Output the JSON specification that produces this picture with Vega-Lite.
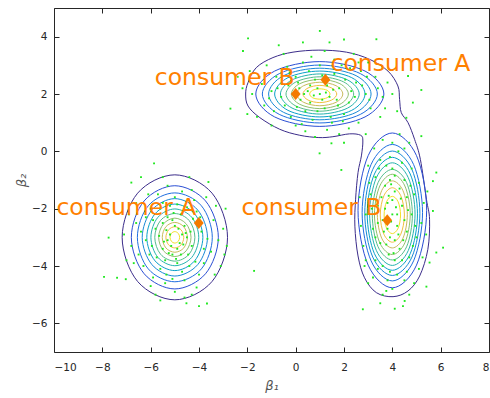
{
"$schema":"https://vega.github.io/schema/vega-lite/v6.json",
"width":435,"height":344,
"autosize":{"type":"none"},
"padding":{"left":54,"top":8,"right":1,"bottom":46},
"background":"white",
"config":{
 "view":{"stroke":"#262626","strokeWidth":1},
 "axis":{"labelFont":"DejaVu Sans","labelFontSize":10.5,"labelColor":"#262626","tickColor":"#262626","tickWidth":1,"domain":false,"grid":false,
   "titleFont":"DejaVu Sans","titleFontStyle":"italic","titleFontWeight":"normal","titleFontSize":13,"titleColor":"#555555"}
},
"datasets":{
"c":[
{"g":0,"l":1,"o":0,"x":-2.07,"y":2.0},{"g":0,"l":1,"o":1,"x":-1.97,"y":2.4},{"g":0,"l":1,"o":2,"x":-1.63,"y":2.92},{"g":0,"l":1,"o":3,"x":-0.94,"y":3.27},{"g":0,"l":1,"o":4,"x":-0.11,"y":3.46},{"g":0,"l":1,"o":5,"x":0.96,"y":3.53},{"g":0,"l":1,"o":6,"x":2.1,"y":3.46},{"g":0,"l":1,"o":7,"x":3.06,"y":3.21},{"g":0,"l":1,"o":8,"x":3.82,"y":2.8},{"g":0,"l":1,"o":9,"x":4.23,"y":2.28},{"g":0,"l":1,"o":10,"x":4.3,"y":1.81},{"g":0,"l":1,"o":11,"x":4.37,"y":1.35},{"g":0,"l":1,"o":12,"x":4.65,"y":1.0},{"g":0,"l":1,"o":13,"x":4.92,"y":0.42},{"g":0,"l":1,"o":14,"x":5.16,"y":-0.28},{"g":0,"l":1,"o":15,"x":5.41,"y":-1.67},{"g":0,"l":1,"o":16,"x":5.54,"y":-2.37},{"g":0,"l":1,"o":17,"x":5.47,"y":-3.42},{"g":0,"l":1,"o":18,"x":5.13,"y":-4.35},{"g":0,"l":1,"o":19,"x":4.65,"y":-4.87},{"g":0,"l":1,"o":20,"x":4.03,"y":-5.07},{"g":0,"l":1,"o":21,"x":3.34,"y":-4.93},{"g":0,"l":1,"o":22,"x":2.85,"y":-4.41},{"g":0,"l":1,"o":23,"x":2.58,"y":-3.65},{"g":0,"l":1,"o":24,"x":2.45,"y":-2.61},{"g":0,"l":1,"o":25,"x":2.48,"y":-1.67},{"g":0,"l":1,"o":26,"x":2.58,"y":-0.74},{"g":0,"l":1,"o":27,"x":2.72,"y":-0.16},{"g":0,"l":1,"o":28,"x":2.78,"y":0.36},{"g":0,"l":1,"o":29,"x":2.69,"y":0.56},{"g":0,"l":1,"o":30,"x":2.23,"y":0.61},{"g":0,"l":1,"o":31,"x":1.54,"y":0.51},{"g":0,"l":1,"o":32,"x":0.96,"y":0.48},{"g":0,"l":1,"o":33,"x":0.17,"y":0.56},{"g":0,"l":1,"o":34,"x":-0.66,"y":0.77},{"g":0,"l":1,"o":35,"x":-1.49,"y":1.18},{"g":0,"l":1,"o":36,"x":-1.97,"y":1.58},

{"g":1,"l":1,"o":0,"x":-2.82,"y":-3},{"g":1,"l":1,"o":1,"x":-3.46,"y":-1.46},{"g":1,"l":1,"o":2,"x":-5,"y":-0.82},{"g":1,"l":1,"o":3,"x":-6.54,"y":-1.46},{"g":1,"l":1,"o":4,"x":-7.18,"y":-3},{"g":1,"l":1,"o":5,"x":-6.54,"y":-4.54},{"g":1,"l":1,"o":6,"x":-5,"y":-5.18},{"g":1,"l":1,"o":7,"x":-3.46,"y":-4.54},
{"g":2,"l":2,"o":0,"x":-3.2,"y":-3},{"g":2,"l":2,"o":1,"x":-3.73,"y":-1.73},{"g":2,"l":2,"o":2,"x":-5,"y":-1.2},{"g":2,"l":2,"o":3,"x":-6.27,"y":-1.73},{"g":2,"l":2,"o":4,"x":-6.8,"y":-3},{"g":2,"l":2,"o":5,"x":-6.27,"y":-4.27},{"g":2,"l":2,"o":6,"x":-5,"y":-4.8},{"g":2,"l":2,"o":7,"x":-3.73,"y":-4.27},
{"g":3,"l":3,"o":0,"x":-3.45,"y":-3},{"g":3,"l":3,"o":1,"x":-3.9,"y":-1.9},{"g":3,"l":3,"o":2,"x":-5,"y":-1.45},{"g":3,"l":3,"o":3,"x":-6.1,"y":-1.9},{"g":3,"l":3,"o":4,"x":-6.55,"y":-3},{"g":3,"l":3,"o":5,"x":-6.1,"y":-4.1},{"g":3,"l":3,"o":6,"x":-5,"y":-4.55},{"g":3,"l":3,"o":7,"x":-3.9,"y":-4.1},
{"g":4,"l":4,"o":0,"x":-3.65,"y":-3},{"g":4,"l":4,"o":1,"x":-4.05,"y":-2.05},{"g":4,"l":4,"o":2,"x":-5,"y":-1.65},{"g":4,"l":4,"o":3,"x":-5.95,"y":-2.05},{"g":4,"l":4,"o":4,"x":-6.35,"y":-3},{"g":4,"l":4,"o":5,"x":-5.95,"y":-3.95},{"g":4,"l":4,"o":6,"x":-5,"y":-4.35},{"g":4,"l":4,"o":7,"x":-4.05,"y":-3.95},
{"g":5,"l":5,"o":0,"x":-3.84,"y":-3},{"g":5,"l":5,"o":1,"x":-4.18,"y":-2.18},{"g":5,"l":5,"o":2,"x":-5,"y":-1.84},{"g":5,"l":5,"o":3,"x":-5.82,"y":-2.18},{"g":5,"l":5,"o":4,"x":-6.16,"y":-3},{"g":5,"l":5,"o":5,"x":-5.82,"y":-3.82},{"g":5,"l":5,"o":6,"x":-5,"y":-4.16},{"g":5,"l":5,"o":7,"x":-4.18,"y":-3.82},
{"g":6,"l":6,"o":0,"x":-4.01,"y":-3},{"g":6,"l":6,"o":1,"x":-4.3,"y":-2.3},{"g":6,"l":6,"o":2,"x":-5,"y":-2.01},{"g":6,"l":6,"o":3,"x":-5.7,"y":-2.3},{"g":6,"l":6,"o":4,"x":-5.99,"y":-3},{"g":6,"l":6,"o":5,"x":-5.7,"y":-3.7},{"g":6,"l":6,"o":6,"x":-5,"y":-3.99},{"g":6,"l":6,"o":7,"x":-4.3,"y":-3.7},
{"g":7,"l":7,"o":0,"x":-4.17,"y":-3},{"g":7,"l":7,"o":1,"x":-4.41,"y":-2.41},{"g":7,"l":7,"o":2,"x":-5,"y":-2.17},{"g":7,"l":7,"o":3,"x":-5.59,"y":-2.41},{"g":7,"l":7,"o":4,"x":-5.83,"y":-3},{"g":7,"l":7,"o":5,"x":-5.59,"y":-3.59},{"g":7,"l":7,"o":6,"x":-5,"y":-3.83},{"g":7,"l":7,"o":7,"x":-4.41,"y":-3.59},
{"g":8,"l":8,"o":0,"x":-4.33,"y":-3},{"g":8,"l":8,"o":1,"x":-4.53,"y":-2.53},{"g":8,"l":8,"o":2,"x":-5,"y":-2.33},{"g":8,"l":8,"o":3,"x":-5.47,"y":-2.53},{"g":8,"l":8,"o":4,"x":-5.67,"y":-3},{"g":8,"l":8,"o":5,"x":-5.47,"y":-3.47},{"g":8,"l":8,"o":6,"x":-5,"y":-3.67},{"g":8,"l":8,"o":7,"x":-4.53,"y":-3.47},
{"g":9,"l":9,"o":0,"x":-4.48,"y":-3},{"g":9,"l":9,"o":1,"x":-4.63,"y":-2.63},{"g":9,"l":9,"o":2,"x":-5,"y":-2.48},{"g":9,"l":9,"o":3,"x":-5.37,"y":-2.63},{"g":9,"l":9,"o":4,"x":-5.52,"y":-3},{"g":9,"l":9,"o":5,"x":-5.37,"y":-3.37},{"g":9,"l":9,"o":6,"x":-5,"y":-3.52},{"g":9,"l":9,"o":7,"x":-4.63,"y":-3.37},
{"g":10,"l":10,"o":0,"x":-4.63,"y":-3},{"g":10,"l":10,"o":1,"x":-4.74,"y":-2.74},{"g":10,"l":10,"o":2,"x":-5,"y":-2.63},{"g":10,"l":10,"o":3,"x":-5.26,"y":-2.74},{"g":10,"l":10,"o":4,"x":-5.37,"y":-3},{"g":10,"l":10,"o":5,"x":-5.26,"y":-3.26},{"g":10,"l":10,"o":6,"x":-5,"y":-3.37},{"g":10,"l":10,"o":7,"x":-4.74,"y":-3.26},
{"g":11,"l":11,"o":0,"x":-4.8,"y":-3},{"g":11,"l":11,"o":1,"x":-4.86,"y":-2.86},{"g":11,"l":11,"o":2,"x":-5,"y":-2.8},{"g":11,"l":11,"o":3,"x":-5.14,"y":-2.86},{"g":11,"l":11,"o":4,"x":-5.2,"y":-3},{"g":11,"l":11,"o":5,"x":-5.14,"y":-3.14},{"g":11,"l":11,"o":6,"x":-5,"y":-3.2},{"g":11,"l":11,"o":7,"x":-4.86,"y":-3.14},

{"g":12,"l":2,"o":0,"x":3.65,"y":2},{"g":12,"l":2,"o":1,"x":2.87,"y":2.8},{"g":12,"l":2,"o":2,"x":1,"y":3.13},{"g":12,"l":2,"o":3,"x":-0.87,"y":2.8},{"g":12,"l":2,"o":4,"x":-1.65,"y":2},{"g":12,"l":2,"o":5,"x":-0.87,"y":1.2},{"g":12,"l":2,"o":6,"x":1,"y":0.87},{"g":12,"l":2,"o":7,"x":2.87,"y":1.2},
{"g":13,"l":3,"o":0,"x":3.38,"y":2},{"g":13,"l":3,"o":1,"x":2.68,"y":2.71},{"g":13,"l":3,"o":2,"x":1,"y":3.01},{"g":13,"l":3,"o":3,"x":-0.68,"y":2.71},{"g":13,"l":3,"o":4,"x":-1.38,"y":2},{"g":13,"l":3,"o":5,"x":-0.68,"y":1.29},{"g":13,"l":3,"o":6,"x":1,"y":0.99},{"g":13,"l":3,"o":7,"x":2.68,"y":1.29},
{"g":14,"l":4,"o":0,"x":3.12,"y":2},{"g":14,"l":4,"o":1,"x":2.5,"y":2.64},{"g":14,"l":4,"o":2,"x":1,"y":2.9},{"g":14,"l":4,"o":3,"x":-0.5,"y":2.64},{"g":14,"l":4,"o":4,"x":-1.12,"y":2},{"g":14,"l":4,"o":5,"x":-0.5,"y":1.36},{"g":14,"l":4,"o":6,"x":1,"y":1.1},{"g":14,"l":4,"o":7,"x":2.5,"y":1.36},
{"g":15,"l":5,"o":0,"x":2.87,"y":2},{"g":15,"l":5,"o":1,"x":2.32,"y":2.57},{"g":15,"l":5,"o":2,"x":1,"y":2.8},{"g":15,"l":5,"o":3,"x":-0.32,"y":2.57},{"g":15,"l":5,"o":4,"x":-0.87,"y":2},{"g":15,"l":5,"o":5,"x":-0.32,"y":1.43},{"g":15,"l":5,"o":6,"x":1,"y":1.2},{"g":15,"l":5,"o":7,"x":2.32,"y":1.43},
{"g":16,"l":6,"o":0,"x":2.63,"y":2},{"g":16,"l":6,"o":1,"x":2.15,"y":2.49},{"g":16,"l":6,"o":2,"x":1,"y":2.7},{"g":16,"l":6,"o":3,"x":-0.15,"y":2.49},{"g":16,"l":6,"o":4,"x":-0.63,"y":2},{"g":16,"l":6,"o":5,"x":-0.15,"y":1.51},{"g":16,"l":6,"o":6,"x":1,"y":1.3},{"g":16,"l":6,"o":7,"x":2.15,"y":1.51},
{"g":17,"l":7,"o":0,"x":2.4,"y":2},{"g":17,"l":7,"o":1,"x":1.99,"y":2.42},{"g":17,"l":7,"o":2,"x":1,"y":2.6},{"g":17,"l":7,"o":3,"x":0.01,"y":2.42},{"g":17,"l":7,"o":4,"x":-0.4,"y":2},{"g":17,"l":7,"o":5,"x":0.01,"y":1.58},{"g":17,"l":7,"o":6,"x":1,"y":1.4},{"g":17,"l":7,"o":7,"x":1.99,"y":1.58},
{"g":18,"l":8,"o":0,"x":2.18,"y":2},{"g":18,"l":8,"o":1,"x":1.83,"y":2.36},{"g":18,"l":8,"o":2,"x":1,"y":2.51},{"g":18,"l":8,"o":3,"x":0.17,"y":2.36},{"g":18,"l":8,"o":4,"x":-0.18,"y":2},{"g":18,"l":8,"o":5,"x":0.17,"y":1.64},{"g":18,"l":8,"o":6,"x":1,"y":1.49},{"g":18,"l":8,"o":7,"x":1.83,"y":1.64},
{"g":19,"l":9,"o":0,"x":1.95,"y":2},{"g":19,"l":9,"o":1,"x":1.67,"y":2.29},{"g":19,"l":9,"o":2,"x":1,"y":2.41},{"g":19,"l":9,"o":3,"x":0.33,"y":2.29},{"g":19,"l":9,"o":4,"x":0.05,"y":2},{"g":19,"l":9,"o":5,"x":0.33,"y":1.71},{"g":19,"l":9,"o":6,"x":1,"y":1.59},{"g":19,"l":9,"o":7,"x":1.67,"y":1.71},
{"g":20,"l":10,"o":0,"x":1.7,"y":2},{"g":20,"l":10,"o":1,"x":1.49,"y":2.21},{"g":20,"l":10,"o":2,"x":1,"y":2.3},{"g":20,"l":10,"o":3,"x":0.51,"y":2.21},{"g":20,"l":10,"o":4,"x":0.3,"y":2},{"g":20,"l":10,"o":5,"x":0.51,"y":1.79},{"g":20,"l":10,"o":6,"x":1,"y":1.7},{"g":20,"l":10,"o":7,"x":1.49,"y":1.79},
{"g":21,"l":11,"o":0,"x":1.42,"y":2},{"g":21,"l":11,"o":1,"x":1.3,"y":2.13},{"g":21,"l":11,"o":2,"x":1,"y":2.18},{"g":21,"l":11,"o":3,"x":0.7,"y":2.13},{"g":21,"l":11,"o":4,"x":0.58,"y":2},{"g":21,"l":11,"o":5,"x":0.7,"y":1.87},{"g":21,"l":11,"o":6,"x":1,"y":1.82},{"g":21,"l":11,"o":7,"x":1.3,"y":1.87},

{"g":22,"l":2,"o":0,"x":5.42,"y":-2.06},{"g":22,"l":2,"o":1,"x":5.0,"y":-0.15},{"g":22,"l":2,"o":2,"x":4,"y":0.64},{"g":22,"l":2,"o":3,"x":3.0,"y":-0.15},{"g":22,"l":2,"o":4,"x":2.58,"y":-2.06},{"g":22,"l":2,"o":5,"x":3.0,"y":-3.97},{"g":22,"l":2,"o":6,"x":4,"y":-4.76},{"g":22,"l":2,"o":7,"x":5.0,"y":-3.97},
{"g":23,"l":3,"o":0,"x":5.25,"y":-2.14},{"g":23,"l":3,"o":1,"x":4.88,"y":-0.46},{"g":23,"l":3,"o":2,"x":4,"y":0.24},{"g":23,"l":3,"o":3,"x":3.12,"y":-0.46},{"g":23,"l":3,"o":4,"x":2.75,"y":-2.14},{"g":23,"l":3,"o":5,"x":3.12,"y":-3.82},{"g":23,"l":3,"o":6,"x":4,"y":-4.52},{"g":23,"l":3,"o":7,"x":4.88,"y":-3.82},
{"g":24,"l":4,"o":0,"x":5.14,"y":-2.16},{"g":24,"l":4,"o":1,"x":4.81,"y":-0.63},{"g":24,"l":4,"o":2,"x":4,"y":0.01},{"g":24,"l":4,"o":3,"x":3.19,"y":-0.63},{"g":24,"l":4,"o":4,"x":2.86,"y":-2.16},{"g":24,"l":4,"o":5,"x":3.19,"y":-3.69},{"g":24,"l":4,"o":6,"x":4,"y":-4.33},{"g":24,"l":4,"o":7,"x":4.81,"y":-3.69},
{"g":25,"l":5,"o":0,"x":5.04,"y":-2.18},{"g":25,"l":5,"o":1,"x":4.74,"y":-0.79},{"g":25,"l":5,"o":2,"x":4,"y":-0.21},{"g":25,"l":5,"o":3,"x":3.26,"y":-0.79},{"g":25,"l":5,"o":4,"x":2.96,"y":-2.18},{"g":25,"l":5,"o":5,"x":3.26,"y":-3.57},{"g":25,"l":5,"o":6,"x":4,"y":-4.15},{"g":25,"l":5,"o":7,"x":4.74,"y":-3.57},
{"g":26,"l":6,"o":0,"x":4.94,"y":-2.19},{"g":26,"l":6,"o":1,"x":4.66,"y":-0.92},{"g":26,"l":6,"o":2,"x":4,"y":-0.4},{"g":26,"l":6,"o":3,"x":3.34,"y":-0.92},{"g":26,"l":6,"o":4,"x":3.06,"y":-2.19},{"g":26,"l":6,"o":5,"x":3.34,"y":-3.46},{"g":26,"l":6,"o":6,"x":4,"y":-3.98},{"g":26,"l":6,"o":7,"x":4.66,"y":-3.46},
{"g":27,"l":7,"o":0,"x":4.83,"y":-2.21},{"g":27,"l":7,"o":1,"x":4.59,"y":-1.09},{"g":27,"l":7,"o":2,"x":4,"y":-0.63},{"g":27,"l":7,"o":3,"x":3.41,"y":-1.09},{"g":27,"l":7,"o":4,"x":3.17,"y":-2.21},{"g":27,"l":7,"o":5,"x":3.41,"y":-3.33},{"g":27,"l":7,"o":6,"x":4,"y":-3.79},{"g":27,"l":7,"o":7,"x":4.59,"y":-3.33},
{"g":28,"l":8,"o":0,"x":4.74,"y":-2.2},{"g":28,"l":8,"o":1,"x":4.52,"y":-1.21},{"g":28,"l":8,"o":2,"x":4,"y":-0.8},{"g":28,"l":8,"o":3,"x":3.48,"y":-1.21},{"g":28,"l":8,"o":4,"x":3.26,"y":-2.2},{"g":28,"l":8,"o":5,"x":3.48,"y":-3.19},{"g":28,"l":8,"o":6,"x":4,"y":-3.6},{"g":28,"l":8,"o":7,"x":4.52,"y":-3.19},
{"g":29,"l":9,"o":0,"x":4.62,"y":-2.2},{"g":29,"l":9,"o":1,"x":4.44,"y":-1.37},{"g":29,"l":9,"o":2,"x":4,"y":-1.03},{"g":29,"l":9,"o":3,"x":3.56,"y":-1.37},{"g":29,"l":9,"o":4,"x":3.38,"y":-2.2},{"g":29,"l":9,"o":5,"x":3.56,"y":-3.03},{"g":29,"l":9,"o":6,"x":4,"y":-3.37},{"g":29,"l":9,"o":7,"x":4.44,"y":-3.03},
{"g":30,"l":10,"o":0,"x":4.5,"y":-2.22},{"g":30,"l":10,"o":1,"x":4.35,"y":-1.55},{"g":30,"l":10,"o":2,"x":4,"y":-1.27},{"g":30,"l":10,"o":3,"x":3.65,"y":-1.55},{"g":30,"l":10,"o":4,"x":3.5,"y":-2.22},{"g":30,"l":10,"o":5,"x":3.65,"y":-2.89},{"g":30,"l":10,"o":6,"x":4,"y":-3.17},{"g":30,"l":10,"o":7,"x":4.35,"y":-2.89},
{"g":31,"l":11,"o":0,"x":4.34,"y":-2.22},{"g":31,"l":11,"o":1,"x":4.24,"y":-1.76},{"g":31,"l":11,"o":2,"x":4,"y":-1.57},{"g":31,"l":11,"o":3,"x":3.76,"y":-1.76},{"g":31,"l":11,"o":4,"x":3.66,"y":-2.22},{"g":31,"l":11,"o":5,"x":3.76,"y":-2.68},{"g":31,"l":11,"o":6,"x":4,"y":-2.87},{"g":31,"l":11,"o":7,"x":4.24,"y":-2.68}
],
"p":[
{"x":-7.93,"y":-4.38},{"x":-7.74,"y":-3.01},{"x":-7.39,"y":-4.41},{"x":-7.03,"y":-4.46},{"x":-1.72,"y":-4.17},{"x":-4.52,"y":-5.3},{"x":-3.67,"y":-5.31},{"x":-6.8,"y":-1.09},{"x":-5.86,"y":-0.42},{"x":-3.61,"y":-1.07},
{"x":-5.2,"y":-2.9},{"x":-4.8,"y":-3.2},{"x":-5.5,"y":-3.4},{"x":-4.6,"y":-2.6},{"x":-5.1,"y":-3.6},{"x":-5.8,"y":-2.7},{"x":-4.3,"y":-3.3},{"x":-5.3,"y":-2.3},{"x":-4.9,"y":-3.9},{"x":-6.2,"y":-3.1},{"x":-3.9,"y":-2.8},{"x":-5.6,"y":-4.1},{"x":-4.4,"y":-4.0},{"x":-6.0,"y":-2.0},{"x":-4.1,"y":-2.1},{"x":-5.0,"y":-1.6},{"x":-6.5,"y":-3.6},{"x":-3.5,"y":-3.5},{"x":-5.4,"y":-4.6},{"x":-4.6,"y":-4.5},{"x":-6.6,"y":-2.5},{"x":-3.4,"y":-2.4},{"x":-5.9,"y":-4.4},{"x":-4.0,"y":-4.3},{"x":-5.2,"y":-1.9},{"x":-4.7,"y":-1.4},{"x":-6.8,"y":-3.3},{"x":-3.2,"y":-3.1},{"x":-5.7,"y":-1.5},{"x":-4.2,"y":-1.7},{"x":-6.3,"y":-4.0},{"x":-3.8,"y":-3.9},{"x":-5.0,"y":-4.9},{"x":-4.5,"y":-3.0},{"x":-5.5,"y":-2.5},{"x":-5.0,"y":-2.6},{"x":-4.9,"y":-3.4},{"x":-5.3,"y":-3.1},{"x":-4.7,"y":-2.9},{"x":-5.1,"y":-2.4},{"x":-6.1,"y":-1.5},{"x":-3.7,"y":-1.6},{"x":-4.3,"y":-5.0},{"x":-5.8,"y":-5.0},{"x":-6.9,"y":-2.2},{"x":-3.0,"y":-2.7},{"x":-3.1,"y":-4.0},{"x":-7.0,"y":-3.8},{"x":-4.0,"y":-5.4},{"x":-5.5,"y":-0.9},{"x":-4.4,"y":-0.9},{"x":-2.9,"y":-2.0},{"x":-6.4,"y":-0.9},{"x":-2.85,"y":-3.3},{"x":-4.75,"y":-2.2},{"x":-5.4,"y":-3.8},{"x":-4.45,"y":-3.6},{"x":-5.95,"y":-3.3},{"x":-4.1,"y":-2.5},{"x":-5.6,"y":-2.0},
{"x":-5.35,"y":-2.75},{"x":-4.65,"y":-3.25},{"x":-5.15,"y":-3.3},{"x":-4.85,"y":-2.7},{"x":-5.45,"y":-3.15},{"x":-4.55,"y":-2.85},{"x":-5.25,"y":-3.55},{"x":-4.75,"y":-3.6},{"x":-5.65,"y":-2.95},{"x":-4.35,"y":-2.8},{"x":-5.05,"y":-2.15},{"x":-4.95,"y":-3.75},{"x":-5.75,"y":-3.7},{"x":-4.25,"y":-2.35},{"x":-5.9,"y":-2.4},{"x":-4.15,"y":-3.85},{"x":-6.05,"y":-3.6},{"x":-3.95,"y":-2.3},{"x":-5.5,"y":-1.8},{"x":-4.5,"y":-1.95},{"x":-5.35,"y":-4.3},{"x":-4.7,"y":-4.2},{"x":-6.4,"y":-2.8},{"x":-3.65,"y":-3.05},{"x":-6.2,"y":-2.3},{"x":-3.8,"y":-3.4},{"x":-5.1,"y":-4.45},{"x":-4.9,"y":-1.85},{"x":-6.7,"y":-3.9},{"x":-3.35,"y":-4.3},{"x":-6.0,"y":-4.7},{"x":-4.1,"y":-4.75},{"x":-5.3,"y":-1.2},{"x":-4.3,"y":-1.35},{"x":-7.1,"y":-2.9},{"x":-2.95,"y":-3.6},{"x":-6.6,"y":-1.8},{"x":-3.3,"y":-1.9},{"x":-5.6,"y":-5.2},{"x":-4.6,"y":-5.1},
{"x":1.0,"y":4.2},{"x":-1.97,"y":3.94},{"x":-2.18,"y":3.5},{"x":-2.7,"y":1.49},{"x":3.34,"y":3.91},{"x":4.65,"y":2.63},{"x":5.2,"y":2.14},{"x":4.85,"y":1.7},{"x":0.99,"y":-0.07},{"x":1.48,"y":0.28},{"x":1.89,"y":-0.65},{"x":4.58,"y":1.17},{"x":5.2,"y":0.53},{"x":5.82,"y":-0.74},{"x":5.68,"y":-1.04},{"x":0.3,"y":3.8},{"x":2.0,"y":3.9},
{"x":1.0,"y":2.0},{"x":0.5,"y":2.1},{"x":1.4,"y":1.9},{"x":0.2,"y":1.8},{"x":1.8,"y":2.2},{"x":-0.3,"y":2.3},{"x":2.2,"y":1.7},{"x":0.8,"y":2.5},{"x":1.2,"y":1.5},{"x":-0.6,"y":1.9},{"x":2.5,"y":2.4},{"x":0.0,"y":2.6},{"x":1.6,"y":2.7},{"x":0.4,"y":1.4},{"x":2.0,"y":1.3},{"x":-1.0,"y":2.1},{"x":2.9,"y":2.0},{"x":-0.8,"y":2.6},{"x":3.1,"y":1.5},{"x":1.0,"y":3.0},{"x":0.3,"y":3.1},{"x":1.9,"y":3.0},{"x":-1.3,"y":1.6},{"x":3.3,"y":2.6},{"x":0.7,"y":1.1},{"x":1.5,"y":1.0},{"x":-0.2,"y":1.2},{"x":2.6,"y":1.0},{"x":-1.5,"y":2.6},{"x":3.6,"y":1.9},{"x":0.9,"y":2.2},{"x":1.3,"y":2.3},{"x":0.6,"y":1.7},{"x":1.7,"y":1.8},{"x":-0.1,"y":2.0},{"x":2.3,"y":2.1},{"x":1.1,"y":1.8},{"x":0.1,"y":2.4},{"x":2.7,"y":2.8},{"x":-1.8,"y":2.0},{"x":-1.2,"y":3.0},{"x":3.0,"y":3.1},{"x":1.2,"y":3.5},{"x":0.0,"y":0.9},{"x":2.2,"y":0.8},{"x":3.8,"y":2.4},{"x":-2.0,"y":1.3},{"x":1.8,"y":0.6},{"x":0.4,"y":0.7},{"x":-0.5,"y":3.4},{"x":2.4,"y":3.4},{"x":3.5,"y":1.2},
{"x":0.75,"y":1.95},{"x":1.25,"y":2.05},{"x":0.6,"y":2.3},{"x":1.55,"y":2.15},{"x":0.35,"y":2.0},{"x":1.75,"y":1.6},{"x":0.15,"y":2.2},{"x":2.05,"y":2.5},{"x":-0.45,"y":1.6},{"x":2.45,"y":1.9},{"x":-0.75,"y":2.2},{"x":2.75,"y":2.3},{"x":0.9,"y":1.4},{"x":1.1,"y":2.65},{"x":0.55,"y":2.8},{"x":1.45,"y":1.2},{"x":-0.25,"y":2.75},{"x":2.25,"y":2.9},{"x":-1.1,"y":1.85},{"x":3.05,"y":1.8},{"x":-0.9,"y":1.4},{"x":2.95,"y":2.6},{"x":0.05,"y":1.55},{"x":1.95,"y":1.05},{"x":-1.4,"y":2.35},{"x":3.4,"y":2.2},{"x":0.25,"y":0.95},{"x":1.3,"y":0.75},{"x":-0.35,"y":2.95},{"x":2.6,"y":3.1},{"x":-1.6,"y":1.2},{"x":3.7,"y":1.5},{"x":0.65,"y":3.3},{"x":1.6,"y":3.2},{"x":-2.2,"y":2.2},{"x":4.0,"y":2.0},{"x":-1.9,"y":2.8},{"x":3.6,"y":2.9},{"x":0.8,"y":0.5},{"x":2.0,"y":0.3},{"x":-1.0,"y":0.9},{"x":2.9,"y":0.6},{"x":4.2,"y":1.4},{"x":-2.4,"y":2.6},{"x":1.4,"y":3.8},{"x":-0.7,"y":3.7},
{"x":5.68,"y":-2.08},{"x":5.82,"y":-3.53},{"x":6.1,"y":-3.36},{"x":5.54,"y":-3.88},{"x":5.41,"y":-4.72},{"x":4.51,"y":-5.22},{"x":4.44,"y":-5.4},{"x":4.1,"y":-5.49},{"x":2.78,"y":-5.51},{"x":2.85,"y":-4.0},{"x":3.75,"y":-4.87},
{"x":4.0,"y":-2.2},{"x":3.8,"y":-1.8},{"x":4.2,"y":-2.6},{"x":3.6,"y":-2.4},{"x":4.4,"y":-1.9},{"x":4.1,"y":-1.4},{"x":3.9,"y":-3.0},{"x":4.6,"y":-2.8},{"x":3.4,"y":-1.9},{"x":4.3,"y":-3.4},{"x":3.7,"y":-1.2},{"x":4.5,"y":-1.0},{"x":3.5,"y":-3.2},{"x":4.8,"y":-2.2},{"x":3.2,"y":-2.7},{"x":4.0,"y":-0.6},{"x":4.1,"y":-3.8},{"x":3.3,"y":-0.9},{"x":4.9,"y":-1.5},{"x":3.6,"y":-4.0},{"x":4.7,"y":-3.7},{"x":3.1,"y":-1.5},{"x":5.0,"y":-3.0},{"x":3.9,"y":-0.2},{"x":4.4,"y":-0.4},{"x":3.5,"y":-0.3},{"x":4.2,"y":-4.3},{"x":3.8,"y":-4.5},{"x":5.2,"y":-2.5},{"x":2.9,"y":-2.2},{"x":4.6,"y":-4.2},{"x":3.3,"y":-3.8},{"x":4.0,"y":-1.7},{"x":4.2,"y":-2.2},{"x":3.8,"y":-2.7},{"x":4.1,"y":-3.1},{"x":3.7,"y":-2.0},{"x":4.5,"y":-2.4},{"x":4.3,"y":-1.3},{"x":3.9,"y":-1.0},{"x":5.3,"y":-1.8},{"x":2.8,"y":-3.3},{"x":4.8,"y":-0.6},{"x":3.2,"y":-4.4},{"x":4.0,"y":0.3},{"x":3.6,"y":0.4},{"x":4.5,"y":0.1},{"x":5.1,"y":-4.1},{"x":3.0,"y":-0.5},{"x":4.9,"y":-4.6},
{"x":3.95,"y":-2.45},{"x":4.15,"y":-1.95},{"x":3.85,"y":-1.55},{"x":4.25,"y":-2.9},{"x":3.75,"y":-3.25},{"x":4.35,"y":-1.65},{"x":3.65,"y":-2.8},{"x":4.45,"y":-3.1},{"x":4.05,"y":-3.55},{"x":3.95,"y":-1.15},{"x":4.6,"y":-1.6},{"x":3.4,"y":-2.5},{"x":4.65,"y":-2.05},{"x":3.55,"y":-1.6},{"x":4.1,"y":-0.85},{"x":3.85,"y":-3.6},{"x":4.4,"y":-3.8},{"x":3.45,"y":-0.6},{"x":4.75,"y":-1.2},{"x":3.3,"y":-3.0},{"x":4.85,"y":-3.3},{"x":3.15,"y":-2.0},{"x":4.95,"y":-2.6},{"x":3.75,"y":-0.5},{"x":4.25,"y":0.0},{"x":3.4,"y":-4.1},{"x":4.5,"y":-4.5},{"x":3.05,"y":-1.1},{"x":5.1,"y":-1.1},{"x":3.9,"y":-4.2},{"x":4.0,"y":-4.8},{"x":3.6,"y":-5.0},{"x":4.7,"y":-5.0},{"x":5.4,"y":-2.9},{"x":2.7,"y":-2.6},{"x":5.45,"y":-1.4},{"x":2.65,"y":-1.6},{"x":3.25,"y":0.1},{"x":4.7,"y":0.3},{"x":3.0,"y":-4.6},{"x":5.25,"y":-3.7},{"x":2.9,"y":-3.8},{"x":4.3,"y":0.6},{"x":3.5,"y":-5.3}
],
"d":[{"x":0,"y":2},{"x":1.23,"y":2.5},{"x":-4.01,"y":-2.5},{"x":3.79,"y":-2.4}],
"t":[
{"x":-0.04,"y":2.3,"s":"consumer B","a":"r"},
{"x":1.44,"y":2.8,"s":"consumer A","a":"l"},
{"x":-4.11,"y":-2.23,"s":"consumer A","a":"r"},
{"x":3.55,"y":-2.23,"s":"consumer B","a":"r"}
]
},
"resolve":{"axis":{"x":"independent","y":"independent"}},
"layer":[
{
 "data":{"name":"c"},
 "mark":{"type":"line","interpolate":"cardinal-closed","strokeWidth":1},
 "encoding":{
  "x":{"field":"x","type":"quantitative","scale":{"domain":[-10,8],"nice":false,"zero":false},
       "axis":{"orient":"bottom","values":[-10,-8,-6,-4,-2,0,2,4,6,8],"title":"β₁","ticks":false,"labelPadding":10,"titleY":33,"titleBaseline":"middle"}},
  "y":{"field":"y","type":"quantitative","scale":{"domain":[-7,5],"nice":false,"zero":false},
       "axis":{"orient":"left","values":[-6,-4,-2,0,2,4],"title":"β₂","ticks":false,"labelPadding":7,"titleX":-33,"titleBaseline":"middle"}},
  "order":{"field":"o","type":"quantitative"},
  "detail":{"field":"g","type":"nominal"},
  "color":{"field":"l","type":"ordinal","legend":null,
    "scale":{"domain":[1,2,3,4,5,6,7,8,9,10,11],"range":["#3b2c8a","#2a4ed4","#1f6ee0","#1789d6","#0aa0c9","#25b2ae","#55bc8c","#90bf6d","#c8ba5a","#f1bf3e","#f2e02a"]}}
 }
},
{
 "data":{"name":"p"},
 "mark":{"type":"point","shape":"square","filled":true,"size":3.5,"color":"#1ee81e","opacity":1},
 "encoding":{
  "x":{"field":"x","type":"quantitative","scale":{"domain":[-10,8],"nice":false,"zero":false},
       "axis":{"orient":"top","values":[-10,-8,-6,-4,-2,0,2,4,6,8],"labels":false,"title":null,"tickSize":-5}},
  "y":{"field":"y","type":"quantitative","scale":{"domain":[-7,5],"nice":false,"zero":false},
       "axis":{"orient":"right","values":[-6,-4,-2,0,2,4],"labels":false,"title":null,"tickSize":-5}}
 }
},
{
 "data":{"name":"d"},
 "mark":{"type":"point","shape":"M-0.82,0L0,-1L0.82,0L0,1Z","filled":true,"size":144,"color":"#f47a00","opacity":1},
 "encoding":{
  "x":{"field":"x","type":"quantitative","scale":{"domain":[-10,8],"nice":false,"zero":false},
       "axis":{"orient":"bottom","values":[-10,-8,-6,-4,-2,0,2,4,6,8],"labels":false,"title":null,"tickSize":-5}},
  "y":{"field":"y","type":"quantitative","scale":{"domain":[-7,5],"nice":false,"zero":false},
       "axis":{"orient":"left","values":[-6,-4,-2,0,2,4],"labels":false,"title":null,"tickSize":-5}}
 }
},
{
 "data":{"name":"t"},
 "transform":[{"filter":"datum.a=='r'"}],
 "mark":{"type":"text","align":"right","baseline":"alphabetic","font":"DejaVu Sans","fontSize":23.5,"color":"#ff8000"},
 "encoding":{
  "x":{"field":"x","type":"quantitative","scale":{"domain":[-10,8],"nice":false,"zero":false},"axis":null},
  "y":{"field":"y","type":"quantitative","scale":{"domain":[-7,5],"nice":false,"zero":false},"axis":null},
  "text":{"field":"s"}
 }
},
{
 "data":{"name":"t"},
 "transform":[{"filter":"datum.a=='l'"}],
 "mark":{"type":"text","align":"left","baseline":"alphabetic","font":"DejaVu Sans","fontSize":23.5,"color":"#ff8000"},
 "encoding":{
  "x":{"field":"x","type":"quantitative","scale":{"domain":[-10,8],"nice":false,"zero":false},"axis":null},
  "y":{"field":"y","type":"quantitative","scale":{"domain":[-7,5],"nice":false,"zero":false},"axis":null},
  "text":{"field":"s"}
 }
}
]
}
